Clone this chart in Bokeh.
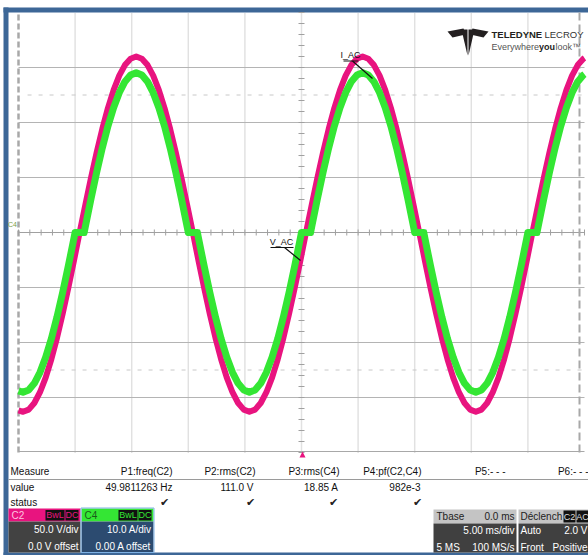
from bokeh.plotting import figure
from bokeh.models import Range1d, Label
from bokeh.embed import file_html
from bokeh.resources import INLINE

# ---------------- data ----------------
# C2 : voltage trace (V), C4 : current trace (A); time in ms (5 ms/div, trigger at 0)
time_ms = [-25.0, -24.6, -24.1, -23.6, -23.1, -22.6, -22.1, -21.6, -21.1, -20.6, -20.1,
           -19.6,
           -19.1, -18.6, -18.1, -17.6, -17.1, -16.6, -16.1, -15.6, -15.1, -14.6, -14.1, -13.6, -13.1,
           -12.6, -12.1, -11.6, -11.1, -10.6, -10.1,
           -9.6,
           -9.1, -8.6, -8.1, -7.6, -7.1, -6.6, -6.1, -5.6, -5.1, -4.6, -4.1, -3.6, -3.1, -2.6, -2.1,
           -1.6, -1.1, -0.6, -0.1,
           0.4,
           0.9, 1.4, 1.9, 2.4, 2.9, 3.4, 3.9, 4.4, 4.9, 5.4, 5.9, 6.4, 6.9, 7.4, 7.9, 8.4, 8.9, 9.4, 9.9,
           10.4,
           10.9, 11.4, 11.9, 12.4, 12.9, 13.4, 13.9, 14.4, 14.9, 15.4, 15.9, 16.4, 16.9, 17.4, 17.9,
           18.4, 18.9, 19.4, 19.9,
           20.4,
           20.9, 21.4, 21.9, 22.4, 22.9, 23.4, 23.9, 24.4, 24.9, 25.0]
volts = [-161.7, -163.0, -161.0, -155.0, -145.2, -131.9, -115.3, -95.8, -74.0, -50.4, -25.5,
         0.0,
         25.0, 49.4, 72.6, 94.0, 113.1, 129.4, 142.6, 152.2, 158.0, 160.0, 158.0, 152.2, 142.6,
         129.4, 113.1, 94.0, 72.6, 49.4, 25.0,
         0.0,
         -25.5, -50.4, -74.0, -95.8, -115.3, -131.9, -145.2, -155.0, -161.0, -163.0, -161.0, -155.0,
         -145.2, -131.9, -115.3, -95.8, -74.0, -50.4, -25.5,
         0.0,
         25.0, 49.4, 72.6, 94.0, 113.1, 129.4, 142.6, 152.2, 158.0, 160.0, 158.0, 152.2, 142.6,
         129.4, 113.1, 94.0, 72.6, 49.4, 25.0,
         0.0,
         -25.5, -50.4, -74.0, -95.8, -115.3, -131.9, -145.2, -155.0, -161.0, -163.0, -161.0, -155.0,
         -145.2, -131.9, -115.3, -95.8, -74.0, -50.4, -25.5,
         0.0,
         25.0, 49.4, 72.6, 94.0, 113.1, 129.4, 142.6, 152.2, 158.0, 158.7]

cur_time_ms = [-25.0, -24.6, -24.1, -23.6, -23.1, -22.6, -22.1, -21.6, -21.1, -20.6, -20.1,
               -20.0, -19.6, -19.2,
               -19.1, -18.6, -18.1, -17.6, -17.1, -16.6, -16.1, -15.6, -15.1, -14.6, -14.1, -13.6,
               -13.1, -12.6, -12.1, -11.6, -11.1, -10.6, -10.1,
               -10.0, -9.6, -9.2,
               -9.1, -8.6, -8.1, -7.6, -7.1, -6.6, -6.1, -5.6, -5.1, -4.6, -4.1, -3.6, -3.1, -2.6,
               -2.1, -1.6, -1.1, -0.6, -0.1,
               0.0, 0.4, 0.8,
               0.9, 1.4, 1.9, 2.4, 2.9, 3.4, 3.9, 4.4, 4.9, 5.4, 5.9, 6.4, 6.9, 7.4, 7.9, 8.4, 8.9,
               9.4, 9.9,
               10.0, 10.4, 10.8,
               10.9, 11.4, 11.9, 12.4, 12.9, 13.4, 13.9, 14.4, 14.9, 15.4, 15.9, 16.4, 16.9, 17.4,
               17.9, 18.4, 18.9, 19.4, 19.9,
               20.0, 20.4, 20.8,
               20.9, 21.4, 21.9, 22.4, 22.9, 23.4, 23.9, 24.4, 24.9, 25.0]
amps = [-28.78, -29.04, -28.63, -27.42, -25.42, -22.70, -19.32, -15.35, -10.91, -6.10, -1.03,
        0.0, 0.0, 0.0,
        1.03, 6.10, 10.91, 15.35, 19.32, 22.70, 25.42, 27.42, 28.63, 29.04, 28.63, 27.42, 25.42,
        22.70, 19.32, 15.35, 10.91, 6.10, 1.03,
        0.0, 0.0, 0.0,
        -1.03, -6.10, -10.91, -15.35, -19.32, -22.70, -25.42, -27.42, -28.63, -29.04, -28.63,
        -27.42, -25.42, -22.70, -19.32, -15.35, -10.91, -6.10, -1.03,
        0.0, 0.0, 0.0,
        1.03, 6.10, 10.91, 15.35, 19.32, 22.70, 25.42, 27.42, 28.63, 29.04, 28.63, 27.42, 25.42,
        22.70, 19.32, 15.35, 10.91, 6.10, 1.03,
        0.0, 0.0, 0.0,
        -1.03, -6.10, -10.91, -15.35, -19.32, -22.70, -25.42, -27.42, -28.63, -29.04, -28.63,
        -27.42, -25.42, -22.70, -19.32, -15.35, -10.91, -6.10, -1.03,
        0.0, 0.0, 0.0,
        1.03, 6.10, 10.91, 15.35, 19.32, 22.70, 25.42, 27.42, 28.63, 28.78]

# graticule (10 x 5 ms/div, 8 x 50 V/div or 10 A/div)
div_ms = [-20, -15, -10, -5, 0, 5, 10, 15, 20]
div_v = [-150, -100, -50, 50, 100, 150]
minor_ms = [m for m in range(-25, 26)]
minor_v = [v for v in range(-200, 201, 10)]
marker_v = [125, -125]

# measurement table
measure_names = ["P1:freq(C2)", "P2:rms(C2)", "P3:rms(C4)", "P4:pf(C2,C4)", "P5:- - -", "P6:- - -"]
measure_values = ["49.9811263 Hz", "111.0 V", "18.85 A", "982e-3", "", ""]
measure_status = ["\u2714", "\u2714", "\u2714", "\u2714", "", ""]

# ---------------- layout / styling (screen pixel positions) ----------------
MAG = "#e8147f"
GRN = "#34e634"
BLUE = "#3d6797"
GRID = "#c4c4c4"
FONT = "Liberation Sans"
W, H = 588, 555
GL, GR, GT, GB = 18, 584, 12, 452          # graticule box
sx = (GR - GL) / 50.0                       # px per ms
sv = (GB - GT) / 400.0                      # px per V
sa = (GB - GT) / 80.0                       # px per A

p = figure(width=W, height=H, output_backend="svg", toolbar_location=None,
           x_range=Range1d(0, W), y_range=Range1d(H, 0),
           x_axis_type=None, y_axis_type=None,
           min_border_left=0, min_border_right=0, min_border_top=0, min_border_bottom=0)
p.outline_line_color = None
p.background_fill_color = "white"
p.border_fill_color = "white"
p.extra_x_ranges = {"ms": Range1d(-25 - GL / sx, 25 + (W - GR) / sx)}
p.extra_y_ranges = {"V": Range1d(-200 - (H - GB) / sv, 200 + GT / sv),
                    "A": Range1d(-40 - (H - GB) / sa, 40 + GT / sa)}
D = dict(x_range_name="ms", y_range_name="V")


def box(l, r, t, b, color, line=None):
    p.quad(left=[l], right=[r], top=[t], bottom=[b], fill_color=color,
           line_color=line, line_width=1)


def txt(x, y, s, size=10, color="#111111", align="left", font=FONT, style="normal"):
    p.add_layout(Label(x=x, y=y, text=s, text_font=font, text_font_size=f"{size}px",
                       text_color=color, text_align=align, text_baseline="middle",
                       text_font_style=style))


# blue screen frame
box(3, 588, 7, 12, BLUE)
box(3, 8, 7, 555, BLUE)
box(3, 588, 552, 555, BLUE)

# graticule
n = len(div_ms)
p.segment(div_ms, [-200] * n, div_ms, [200] * n, line_color=GRID, line_width=1.5,
          line_dash="1 1", **D)
m = len(div_v)
p.segment([-25] * m, div_v, [25] * m, div_v, line_color="#b4b4b4", line_width=1, **D)
p.segment([-25], [0], [25], [0], line_color="#a0a0a0", line_width=1, **D)
p.segment([-24.2] * 2, marker_v, [25] * 2, marker_v, line_color="#c8c8c8", line_width=1,
          line_dash="4 7", **D)
p.segment([-25], [-200], [-25], [200], line_color="#a8a8a8", line_width=2.5, line_dash="6 3", **D)
p.segment([579], [GT], [579], [GB], line_color="#a8a8a8", line_width=2, line_dash="8 4")
p.segment([GL], [451], [GR], [451], line_color="#a8a8a8", line_width=1)
p.scatter(minor_ms, [0] * len(minor_ms), marker="dash", angle=1.5708, size=6,
          line_color="#a0a0a0", **D)
p.scatter([0] * len(minor_v), minor_v, marker="dash", size=6, line_color="#a0a0a0", **D)

# traces
p.line(time_ms, volts, line_color=MAG, line_width=6, line_join="round", **D)
p.line(cur_time_ms, amps, x_range_name="ms", y_range_name="A", line_color=GRN, line_width=7,
       line_join="round")

# trace labels
txt(350, 54, "I_AC", size=9, align="center")
p.segment([343, 352], [60.5, 60.5], [358, 372], [60.5, 78], line_color="#111111", line_width=1.2)
txt(281, 241, "V_AC", size=9, align="center")
p.segment([270, 284], [247, 247], [293, 300], [247, 260], line_color="#111111", line_width=1.2)

# channel marker, trigger marker
txt(12, 224, "C4", size=7, color="#7aa24a", align="center")
p.patch([299, 305, 302], [457, 457, 451], fill_color=MAG, line_color=None)

# logo
LOGO = "#231f20"
p.patches([[447, 463, 465, 452], [488, 472, 470, 483], [461, 467, 467], [468, 474, 468]],
          [[31, 28, 34, 37], [31, 28, 34, 37], [29, 29, 55], [29, 29, 55]],
          fill_color=LOGO, line_color=None)
txt(491, 34, "TELEDYNE", size=9.5, color=LOGO, style="bold")
txt(583, 34, "LECROY", size=9.5, color="#333333", align="right")
txt(491, 46.5, "Everywhere", size=9, color="#555555")
txt(538.5, 46.5, "you", size=9, color="#222222", style="bold")
txt(555, 46.5, "look\u2122", size=9, color="#555555")

# measurement table
txt(10, 471, "Measure")
box(8, 588, 478.5, 479.5, "#9a9a9a")
txt(10, 486.5, "value")
txt(10, 501.5, "status")
col_right = [172, 255, 339, 421, 505, 588]
val_right = [172, 253, 338, 420, 505, 588]
chk_x = [164, 250, 333, 417, 0, 0]
for i in range(len(measure_names)):
    txt(col_right[i], 471, measure_names[i], align="right")
    if measure_values[i]:
        txt(val_right[i], 486.5, measure_values[i], align="right")
    if measure_status[i]:
        txt(chk_x[i], 501.5, measure_status[i], size=11, color="#222222", align="center",
            font="DejaVu Sans")

# C2 channel box
box(8, 80, 508, 521, MAG)
box(8, 80, 521, 552, "#424242")
txt(11, 514.5, "C2", size=10, color="#ffc2e0")
box(45, 64, 509.5, 520, "#111111")
box(65, 78, 509.5, 520, "#111111")
txt(54.5, 514.8, "BwL", size=9, color=MAG, align="center")
txt(71.5, 514.8, "DC", size=9, color=MAG, align="center")
txt(78, 529, "50.0 V/div", size=10, color="white", align="right")
txt(78, 546, "0.0 V offset", size=10, color="white", align="right")

# C4 channel box
box(81, 153, 508, 521, GRN)
box(81, 153, 521, 552, "#2c4b70")
txt(84, 514.5, "C4", size=10, color="#1a5a1a")
box(118, 137, 509.5, 520, "#111111")
box(138, 151, 509.5, 520, "#111111")
txt(127.5, 514.8, "BwL", size=9, color=GRN, align="center")
txt(144.5, 514.8, "DC", size=9, color=GRN, align="center")
txt(151, 529, "10.0 A/div", size=10, color="white", align="right")
txt(151, 546, "0.00 A offset", size=10, color="white", align="right")
p.quad(left=[80.5], right=[153.5], top=[507.5], bottom=[552], fill_color=None,
       line_color="#7fb2e5", line_width=1)

# timebase box
box(433, 516, 509, 523, "#c4c4c4")
box(433, 516, 523, 552, "#404040")
txt(436, 516, "Tbase", size=10, color="#222222")
txt(514, 516, "0.0 ms", size=10, color="#222222", align="right")
txt(514, 530, "5.00 ms/div", size=10, color="white", align="right")
txt(436, 547, "5 MS", size=10, color="white")
txt(514, 547, "100 MS/s", size=10, color="white", align="right")

# trigger box
box(518, 588, 509, 523, "#c4c4c4")
box(518, 588, 523, 552, "#404040")
txt(520, 516, "D\u00e9clench", size=10, color="#222222")
box(563, 575, 510, 522, "#111111")
box(576, 588, 510, 522, "#111111")
txt(569, 516, "C2", size=9, color="#dddddd", align="center")
txt(582, 516, "AC", size=9, color="#dddddd", align="center")
txt(520, 530, "Auto", size=10, color="white")
txt(587, 530, "2.0 V", size=10, color="white", align="right")
txt(520, 547, "Front", size=10, color="white")
txt(587, 547, "Positive", size=10, color="white", align="right")

open("out.html", "w").write(file_html(p, INLINE))
